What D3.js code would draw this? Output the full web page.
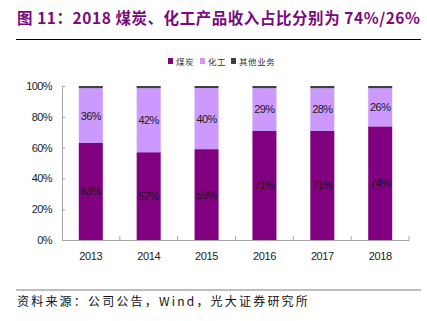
<!DOCTYPE html>
<html>
<head>
<meta charset="utf-8">
<script src="https://cdn.jsdelivr.net/npm/d3@7"></script>
<style>
  body { margin: 0; background: #fff; }
  text { font-family: "Liberation Sans", Arial, sans-serif; }
</style>
</head>
<body>
<div id="chart"></div>
<script>
"use strict"

const years = ["2013", "2014", "2015", "2016", "2017", "2018"];
const coal = [63.0, 57.0, 59.0, 71.0, 71.0, 73.8];
const chem = [35.6, 41.6, 39.7, 27.6, 27.6, 24.8];
const other = [1.4, 1.4, 1.3, 1.4, 1.4, 1.4];
const coalLabels = ["63%", "57%", "59%", "71%", "71%", "74%"];
const chemLabels = ["36%", "42%", "40%", "29%", "28%", "26%"];
const yTicks = [0, 20, 40, 60, 80, 100];

const seriesNames = ["煤炭", "化工", "其他业务"];
const seriesColors = ["#800080", "#cc99ff", "#404040"];

let W = 427, H = 321;
let margin = {top: 86, right: 18, bottom: 81, left: 62};
let width = W - margin.left - margin.right,
    height = H - margin.top - margin.bottom;

let svg = d3.select("#chart")
  .append("svg")
  .attr("width", W)
  .attr("height", H);

// title
svg.append("text")
  .attr("x", 17)
  .attr("y", 24)
  .attr("textLength", 403)
  .attr("lengthAdjust", "spacing")
  .style("font-family", '"Noto Sans CJK SC", sans-serif')
  .style("font-weight", "bold")
  .style("font-size", "15.5px")
  .style("fill", "#7b0a7b")
  .text("图 11：2018 煤炭、化工产品收入占比分别为 74%/26%");

svg.append("line")
  .attr("x1", 16).attr("x2", 421)
  .attr("y1", 39.5).attr("y2", 39.5)
  .style("stroke", "#000")
  .style("stroke-width", 1.2);

let g = svg.append("g")
  .attr("transform", "translate(" + margin.left + "," + margin.top + ")");

let x = d3.scaleBand()
  .domain(years)
  .range([0, width])
  .paddingInner(0.585)
  .paddingOuter(0.29);

let xb = d3.scaleBand().domain(years).range([0, width]);

let y = d3.scaleLinear()
  .domain([0, 100])
  .range([height, 0]);

// rows for stacking
let rows = years.map(function(yr, i) {
  return {year: yr, coal: coal[i], chem: chem[i], other: other[i]};
});
let stack = d3.stack().keys(["coal", "chem", "other"]);
let layers = stack(rows);

g.selectAll(".layer")
  .data(layers)
  .enter()
  .append("g")
  .attr("class", "layer")
  .style("fill", function(d, i) { return seriesColors[i]; })
  .selectAll("rect")
  .data(function(d) { return d; })
  .enter()
  .append("rect")
  .attr("x", function(d) { return x(d.data.year); })
  .attr("width", x.bandwidth())
  .attr("y", function(d) { return y(d[1]); })
  .attr("height", function(d) { return y(d[0]) - y(d[1]); });

// bar labels
let labelSets = [coalLabels, chemLabels];
labelSets.forEach(function(labels, li) {
  g.selectAll(".lbl" + li)
    .data(layers[li])
    .enter()
    .append("text")
    .attr("x", function(d) { return x(d.data.year) + x.bandwidth() / 2; })
    .attr("y", function(d) { return (y(d[0]) + y(d[1])) / 2 + 4; })
    .attr("text-anchor", "middle")
    .style("font-size", "11px")
    .style("letter-spacing", "-0.6px")
    .style("fill", "#1a1a1a")
    .text(function(d, i) { return labels[i]; });
});

// y axis
let yAxis = g.append("g")
  .call(d3.axisLeft(y).tickValues(yTicks).tickSize(-3).tickPadding(10)
    .tickFormat(function(d) { return d + "%"; }));
yAxis.select(".domain").style("stroke", "#a6a6a6");
yAxis.selectAll(".tick line").style("stroke", "#a6a6a6");
yAxis.selectAll(".tick text")
  .style("font-size", "11px")
  .style("letter-spacing", "-0.6px")
  .style("fill", "#1a1a1a")
  .style("font-family", '"Liberation Sans", Arial, sans-serif');

// x axis
let xAxis = g.append("g")
  .attr("transform", "translate(0," + height + ")")
  .call(d3.axisBottom(x).tickSize(0).tickPadding(12));
xAxis.select(".domain").style("stroke", "#a6a6a6");
xAxis.selectAll(".tick text")
  .style("font-size", "11px")
  .style("letter-spacing", "-0.4px")
  .style("fill", "#1a1a1a")
  .style("font-family", '"Liberation Sans", Arial, sans-serif');

// x boundary ticks
g.selectAll(".xb")
  .data(years.slice(1).concat(["end"]))
  .enter()
  .append("line")
  .attr("x1", function(d, i) { return xb(years[i]) + xb.bandwidth(); })
  .attr("x2", function(d, i) { return xb(years[i]) + xb.bandwidth(); })
  .attr("y1", height)
  .attr("y2", height - 4)
  .style("stroke", "#a6a6a6");

// legend
let legendX = [168, 200, 231];
let legend = svg.append("g");
seriesNames.forEach(function(name, i) {
  legend.append("rect")
    .attr("x", legendX[i])
    .attr("y", 58)
    .attr("width", 5)
    .attr("height", 6)
    .style("fill", seriesColors[i]);
  legend.append("text")
    .attr("x", legendX[i] + 8)
    .attr("y", 64.5)
    .style("font-family", '"Noto Sans CJK SC", sans-serif')
    .style("font-size", "8.5px")
    .style("letter-spacing", "0.6px")
    .style("fill", "#333")
    .text(name);
});

// source
svg.append("line")
  .attr("x1", 16).attr("x2", 421)
  .attr("y1", 290).attr("y2", 290)
  .style("stroke", "#7f7f7f")
  .style("stroke-width", 1.2);

svg.append("text")
  .attr("x", 17)
  .attr("y", 306)
  .style("font-family", '"Noto Sans CJK SC", sans-serif')
  .style("font-size", "12px")
  .style("letter-spacing", "2.2px")
  .style("fill", "#111")
  .text("资料来源：公司公告，Wind，光大证券研究所");
</script>
</body>
</html>
